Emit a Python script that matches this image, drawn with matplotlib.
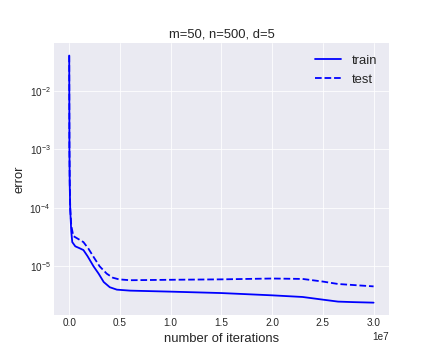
import matplotlib
matplotlib.use('Agg')
import matplotlib.pyplot as plt
import numpy as np

plt.style.use('seaborn-v0_8-darkgrid')

# iterations (x 1e7) and errors
iters_train = [0.0, 0.002, 0.005, 0.01, 0.02, 0.03, 0.06, 0.1, 0.14, 0.18, 0.24, 0.29, 0.34, 0.4, 0.47, 0.6,
               1.0, 1.5, 2.0, 2.3, 2.5, 2.65, 2.8, 3.0]
train_err = [4.0e-2, 1.0e-3, 2.5e-4, 9.0e-5, 4.0e-5, 2.6e-5, 2.2e-5, 2.05e-5, 1.9e-5, 1.5e-5, 1.0e-5, 7.5e-6,
             5.4e-6, 4.4e-6, 4.0e-6, 3.85e-6, 3.7e-6, 3.5e-6, 3.2e-6, 3.0e-6, 2.7e-6, 2.5e-6, 2.45e-6, 2.4e-6]

iters_test = [0.0, 0.002, 0.005, 0.01, 0.02, 0.04, 0.08, 0.14, 0.19, 0.24, 0.3, 0.37, 0.43, 0.49, 0.6,
              1.0, 1.5, 2.0, 2.3, 2.5, 2.65, 2.8, 3.0]
test_err = [4.0e-2, 1.1e-3, 2.8e-4, 1.0e-4, 5.0e-5, 3.3e-5, 3.0e-5, 2.6e-5, 2.0e-5, 1.45e-5, 1.0e-5, 7.5e-6,
            6.4e-6, 6.0e-6, 5.8e-6, 5.9e-6, 6.0e-6, 6.2e-6, 6.1e-6, 5.5e-6, 5.0e-6, 4.8e-6, 4.55e-6]

fig = plt.figure(figsize=(6, 5), dpi=72)
ax = fig.add_axes([0.125, 0.125, 0.775, 0.755])

ax.plot(np.array(iters_train) * 1e7, train_err, 'b-', linewidth=1.8, label='train')
ax.plot(np.array(iters_test) * 1e7, test_err, 'b--', linewidth=1.8, label='test')
ax.set_yscale('log')

ax.set_title('m=50, n=500, d=5', fontsize=13)
ax.set_xlabel('number of iterations', fontsize=13)
ax.set_ylabel('error', fontsize=13)
ax.tick_params(labelsize=10)
ax.xaxis.get_offset_text().set_fontsize(10)
ax.legend(fontsize=13, loc='upper right')

fig.savefig('out.png', dpi=72)
